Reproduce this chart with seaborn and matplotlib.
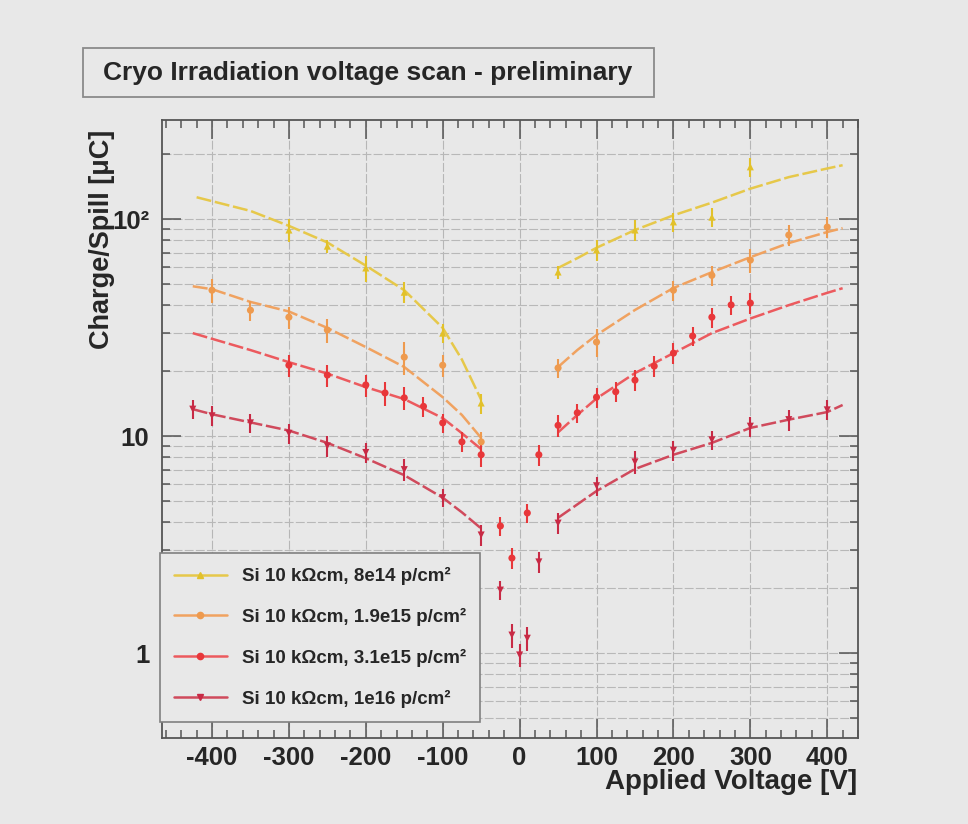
import numpy as np
import pandas as pd
import matplotlib
matplotlib.use("Agg")
import matplotlib.pyplot as plt
import seaborn as sns
from matplotlib.lines import Line2D
from matplotlib.patches import Rectangle
from matplotlib.ticker import FixedLocator, FixedFormatter, MultipleLocator, NullFormatter

# ---------------- data ----------------
series_labels = [
    "Si 10 k\u03a9cm, 8e14 p/cm\u00b2",
    "Si 10 k\u03a9cm, 1.9e15 p/cm\u00b2",
    "Si 10 k\u03a9cm, 3.1e15 p/cm\u00b2",
    "Si 10 k\u03a9cm, 1e16 p/cm\u00b2",
]

# measured points (voltage [V], charge/spill [uC], error)
yellow_v = [-300, -250, -200, -150, -100, -50, 50, 100, 150, 200, 250, 300]
yellow_q = [89, 75, 59.5, 46, 29.8, 14.2, 57, 72, 89, 97, 102, 174]
yellow_err = [11, 5, 8, 5, 3, 1.5, 4, 8, 10, 10, 10, 18]

orange_v = [-400, -350, -300, -250, -150, -100, -50, 50, 100, 200, 250, 300, 350, 400]
orange_q = [47, 38, 35.3, 30.8, 23.1, 21.2, 9.4, 20.6, 27.1, 47, 55, 64.7, 84.4, 91.8]
orange_err = [6, 4, 4, 4, 4, 2.5, 1.0, 2, 4, 5, 6, 8, 9, 10]

red_v = [-300, -250, -200, -175, -150, -125, -100, -75, -50, -25, -10, 10, 25,
         50, 75, 100, 125, 150, 175, 200, 225, 250, 275, 300]
red_q = [21.2, 19.1, 17.2, 15.8, 15.0, 13.7, 11.5, 9.4, 8.2, 3.85, 2.74, 4.42, 8.2,
         11.2, 12.8, 15.1, 16.0, 18.1, 21.0, 24.1, 28.9, 35.3, 40.2, 41.0]
red_err = [2.5, 2.2, 2.0, 2.0, 1.8, 1.5, 1.2, 1.0, 1.0, 0.4, 0.3, 0.45, 0.9,
           1.3, 1.3, 1.6, 1.7, 2.0, 2.3, 2.6, 2.8, 3.8, 4.0, 4.5]

darkred_v = [-425, -400, -350, -300, -250, -200, -150, -100, -50, -25, -10, 0, 10, 25,
             50, 100, 150, 200, 250, 300, 350, 400]
darkred_q = [13.3, 12.4, 11.5, 10.3, 9.0, 8.4, 7.0, 5.2, 3.5, 1.95, 1.21, 0.98, 1.17, 2.63,
             3.97, 5.9, 7.6, 8.6, 9.6, 11.1, 11.9, 13.2]
darkred_err = [1.3, 1.3, 1.2, 1.1, 1.0, 0.9, 0.8, 0.5, 0.4, 0.2, 0.15, 0.12, 0.15, 0.3,
               0.45, 0.6, 0.9, 0.9, 1.0, 1.2, 1.3, 1.4]

# fitted curves, negative and positive bias branches
yellow_fit_lv = [-420, -350, -300, -250, -200, -150, -100, -75, -50]
yellow_fit_lq = [126, 109, 93, 78, 61, 47, 31.5, 22.5, 14.7]
yellow_fit_rv = [50, 75, 100, 150, 200, 250, 300, 350, 400, 420]
yellow_fit_rq = [59.5, 66, 73.7, 89, 104, 119, 138, 156, 171, 177]

orange_fit_lv = [-425, -400, -350, -300, -250, -200, -150, -100, -75, -50]
orange_fit_lq = [49, 47.5, 41.5, 37.5, 31.5, 25.7, 20.8, 15.1, 12.5, 9.8]
orange_fit_rv = [50, 75, 100, 150, 200, 250, 300, 350, 400, 420]
orange_fit_rq = [20.8, 24.9, 29.2, 38.1, 48.1, 56.9, 66.7, 77.5, 87.1, 90.8]

red_fit_lv = [-425, -350, -300, -250, -200, -150, -100, -75, -50]
red_fit_lq = [29.8, 24.9, 21.9, 19.4, 16.8, 14.8, 12.1, 10.3, 8.7]
red_fit_rv = [50, 75, 100, 150, 200, 250, 300, 350, 400, 420]
red_fit_rq = [10.4, 12.5, 14.9, 19.5, 24.1, 29.8, 34.8, 40.1, 45.7, 48]

darkred_fit_lv = [-425, -400, -300, -250, -200, -150, -100, -75, -50]
darkred_fit_lq = [13.3, 12.6, 10.6, 9.3, 7.9, 6.6, 5.2, 4.45, 3.75]
darkred_fit_rv = [50, 100, 150, 200, 250, 300, 350, 400, 420]
darkred_fit_rq = [4.2, 5.58, 7.05, 8.2, 9.3, 10.9, 11.9, 12.9, 13.9]

x_ticks = [-400, -300, -200, -100, 0, 100, 200, 300, 400]
y_ticks = [1, 10, 100]
y_tick_labels = ["1", "10", "10\u00b2"]

# ---------------- style ----------------
BG = "#e8e8e8"
sns.set_theme(style="ticks")
plt.rcParams["font.family"] = ["Liberation Sans", "DejaVu Sans"]
plt.rcParams["font.weight"] = "bold"
plt.rcParams["axes.unicode_minus"] = False

colors = ["#e2c12a", "#ee9a4e", "#e8373a", "#c82a45"]
line_colors = ["#e6c84a", "#f0a260", "#ec5a5e", "#d04a5c"]
markers = ["^", "o", "o", "v"]

points = [
    (yellow_v, yellow_q, yellow_err),
    (orange_v, orange_q, orange_err),
    (red_v, red_q, red_err),
    (darkred_v, darkred_q, darkred_err),
]
fits = [
    [(yellow_fit_lv, yellow_fit_lq), (yellow_fit_rv, yellow_fit_rq)],
    [(orange_fit_lv, orange_fit_lq), (orange_fit_rv, orange_fit_rq)],
    [(red_fit_lv, red_fit_lq), (red_fit_rv, red_fit_rq)],
    [(darkred_fit_lv, darkred_fit_lq), (darkred_fit_rv, darkred_fit_rq)],
]

fig = plt.figure(figsize=(9.68, 8.24), dpi=100, facecolor=BG)
ax = fig.add_axes([162 / 968, 1 - 738 / 824, 696 / 968, 618 / 824])
ax.set_facecolor(BG)

ax.set_yscale("log")
ax.set_xlim(-465, 440)
ax.set_ylim(0.406, 286)

# grid
ax.xaxis.set_major_locator(FixedLocator(x_ticks))
ax.xaxis.set_minor_locator(MultipleLocator(20))
ax.yaxis.set_major_locator(FixedLocator(y_ticks))
ax.yaxis.set_major_formatter(FixedFormatter(y_tick_labels))
minor_y = [m * 10.0 ** e for e in (-1, 0, 1, 2) for m in range(2, 10)]
ax.yaxis.set_minor_locator(FixedLocator(minor_y))
ax.yaxis.set_minor_formatter(NullFormatter())
ax.grid(True, which="major", axis="x", color="#b6b6b6", lw=0.8, ls=(0, (8, 2)))
ax.grid(True, which="both", axis="y", color="#b8b8b8", lw=0.8, ls=(0, (8, 2)))
ax.set_axisbelow(True)

# fit curves
for i, branches in enumerate(fits):
    for bv, bq in branches:
        fit_df = pd.DataFrame({"V": bv, "Q": bq})
        sns.lineplot(data=fit_df, x="V", y="Q", ax=ax, color=line_colors[i],
                     lw=1.8, linestyle=(0, (6, 1.5)), sort=False,
                     estimator=None, legend=False, zorder=3)

# measured points with error bars
for i, (v, q, e) in enumerate(points):
    ax.errorbar(v, q, yerr=e, fmt="none", ecolor=colors[i], elinewidth=1.5,
                capsize=0, zorder=4)
    pts = pd.DataFrame({"V": v, "Q": q})
    sns.scatterplot(data=pts, x="V", y="Q", ax=ax, color=colors[i],
                    marker=markers[i], s=26, edgecolor="none", legend=False,
                    zorder=5)

# axes frame and ticks
for sp in ax.spines.values():
    sp.set_color("#555555")
    sp.set_linewidth(1.3)
ax.tick_params(which="both", direction="in", top=True, right=True,
               color="#555555", width=1.1)
ax.tick_params(which="major", length=14)
ax.tick_params(which="minor", length=6)
ax.tick_params(axis="x", which="major", pad=6, labelsize=18.5, labelcolor="#262626")
ax.tick_params(axis="y", which="major", pad=9, labelsize=18.5, labelcolor="#262626")
for lab in ax.get_xticklabels() + ax.get_yticklabels():
    lab.set_fontweight("bold")

ax.set_xlabel("Applied Voltage [V]", loc="right", fontsize=20, fontweight="bold",
              color="#262626")
ax.xaxis.set_label_coords(0.999, -0.050)
ax.set_ylabel("Charge/Spill [\u03bcC]", loc="top", fontsize=19.5, fontweight="bold",
              color="#262626")
ax.yaxis.set_label_coords(-0.067, 0.984)

# legend
handles = [
    Line2D([], [], color=line_colors[i], lw=1.8, marker=markers[i], markersize=4.5,
           markerfacecolor=colors[i], markeredgecolor=colors[i])
    for i in range(4)
]
leg = ax.legend(handles, series_labels, loc="upper left",
                bbox_to_anchor=(160 / 968, 1 - 553 / 824),
                bbox_transform=fig.transFigure,
                prop={"family": "Liberation Sans", "weight": "bold", "size": 13.5},
                frameon=True, fancybox=False, edgecolor="#808080", facecolor=BG,
                framealpha=1, handlelength=2.8, handletextpad=0.8,
                labelspacing=1.22, borderpad=0.75, borderaxespad=0)
leg.get_frame().set_linewidth(1.2)
leg.set_zorder(10)
for t in leg.get_texts():
    t.set_color("#262626")

# title box
fig.patches.append(Rectangle((83 / 968, 1 - 97 / 824), 571 / 968, 49 / 824,
                             transform=fig.transFigure, facecolor=BG,
                             edgecolor="#8a8a8a", lw=1.3))
fig.text(368 / 968, 1 - 73 / 824, "Cryo Irradiation voltage scan - preliminary",
         ha="center", va="center", fontsize=19, fontweight="bold", color="#262626")

fig.savefig("out.png", dpi=100, facecolor=BG)
